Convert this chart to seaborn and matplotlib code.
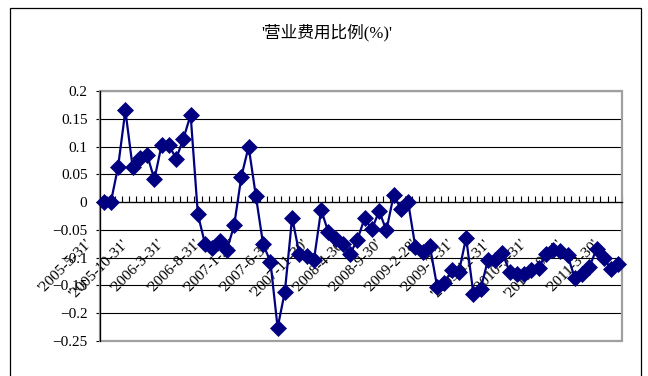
import matplotlib
matplotlib.use("Agg")
import matplotlib.pyplot as plt
import matplotlib.transforms as mtransforms
from matplotlib.patches import Rectangle
import numpy as np
import pandas as pd
import seaborn as sns

# Monthly selling-expense ratio, May 2005 - Apr 2011
ratio = [
    0.000, 0.000, 0.064, 0.165, 0.063, 0.079, 0.085, 0.041, 0.103, 0.103,
    0.078, 0.114, 0.157, -0.022, -0.076, -0.083, -0.070, -0.086, -0.042, 0.046,
    0.100, 0.011, -0.076, -0.107, -0.226, -0.161, -0.028, -0.093, -0.097, -0.105,
    -0.014, -0.054, -0.066, -0.076, -0.093, -0.068, -0.029, -0.049, -0.016, -0.051,
    0.012, -0.012, 0.000, -0.081, -0.090, -0.079, -0.152, -0.146, -0.122, -0.126,
    -0.064, -0.165, -0.156, -0.105, -0.105, -0.092, -0.125, -0.130, -0.129, -0.122,
    -0.119, -0.093, -0.086, -0.088, -0.096, -0.137, -0.130, -0.117, -0.084, -0.100,
    -0.121, -0.112,
]

# Category labels shown every fifth month
tick_labels = [
    "'2005-5-31'", "'2005-10-31'", "'2006-3-31'", "'2006-8-31'", "'2007-1-31'",
    "'2007-6-30'", "'2007-11-30'", "'2008-4-30'", "'2008-9-30'", "'2009-2-28'",
    "'2009-7-31'", "'2009-12-31'", "'2010-5-31'", "'2010-10-31'", "'2011-3-30'",
]
label_step = 5

y_ticks = [0.2, 0.15, 0.1, 0.05, 0.0, -0.05, -0.1, -0.15, -0.2, -0.25]
y_labels = ["0.2", "0.15", "0.1", "0.05", "0", "\u22120.05", "\u22120.1",
            "\u22120.15", "\u22120.2", "\u22120.25"]

title = "'营业费用比例(%)'"

NAVY = "#000080"

sns.set_theme(style="white")
plt.rcParams["font.family"] = ["Liberation Serif", "Noto Sans CJK SC", "DejaVu Sans"]

fig = plt.figure(figsize=(6.48, 3.76), dpi=100)
ax = fig.add_axes([100 / 648, 35 / 376, 522 / 648, 250 / 376])

n = len(ratio)
df = pd.DataFrame({"pos": np.arange(n), "ratio": ratio})
sns.lineplot(data=df, x="pos", y="ratio", ax=ax, color=NAVY, linewidth=1.6,
             marker="D", markersize=8.2, markeredgecolor=NAVY,
             markeredgewidth=0.5, clip_on=False, zorder=3, sort=False)

ax.set_xlim(-0.5, n - 0.5)
ax.set_ylim(-0.25, 0.2)
ax.set_xlabel("")
ax.set_ylabel("")

# y axis
ax.set_yticks(y_ticks)
ax.set_yticklabels(y_labels)
ax.tick_params(axis="y", direction="out", length=3, width=0.8, color="black",
               pad=6, labelsize=11, labelcolor="black", left=True)
ax.yaxis.grid(True, color="black", linewidth=0.8)
ax.xaxis.grid(False)
ax.set_axisbelow(True)

# category axis crossing at zero, ticks between categories
ax.spines["bottom"].set_position(("data", 0))
ax.set_xticks(np.arange(0, n, label_step))
ax.set_xticklabels(tick_labels, rotation=45, ha="right", va="center",
                   rotation_mode="anchor")
ax.set_xticks(np.arange(-0.5, n, 1.0), minor=True)
ax.tick_params(axis="x", which="major", length=0, pad=0, labelsize=11,
               labelcolor="black", bottom=True)
ax.tick_params(axis="x", which="minor", direction="in", length=4.5, width=0.8,
               color="black", bottom=True)
shift = mtransforms.ScaledTranslation(-0.14, -0.40, fig.dpi_scale_trans)
for lab in ax.xaxis.get_majorticklabels():
    lab.set_transform(lab.get_transform() + shift)

for side in ("top", "right"):
    ax.spines[side].set_visible(False)
for side in ("left", "bottom"):
    ax.spines[side].set_color("black")
    ax.spines[side].set_linewidth(0.9)
    ax.spines[side].set_zorder(2.6)

# plot area frame
ax.add_patch(Rectangle((0, 0), 1, 1, transform=ax.transAxes, fill=False,
                       edgecolor="#a0a0a0", linewidth=1.6, zorder=2.2,
                       clip_on=False))

# chart area border
fig.add_artist(Rectangle((10 / 648, -0.1), 631 / 648, 1.1 - 8 / 376,
                         transform=fig.transFigure, fill=False,
                         edgecolor="black", linewidth=0.9))

fig.text(327 / 648, 1 - 33 / 376, title, ha="center", va="center",
         fontsize=12, color="black")

fig.savefig("out.png", dpi=100, facecolor="white")
